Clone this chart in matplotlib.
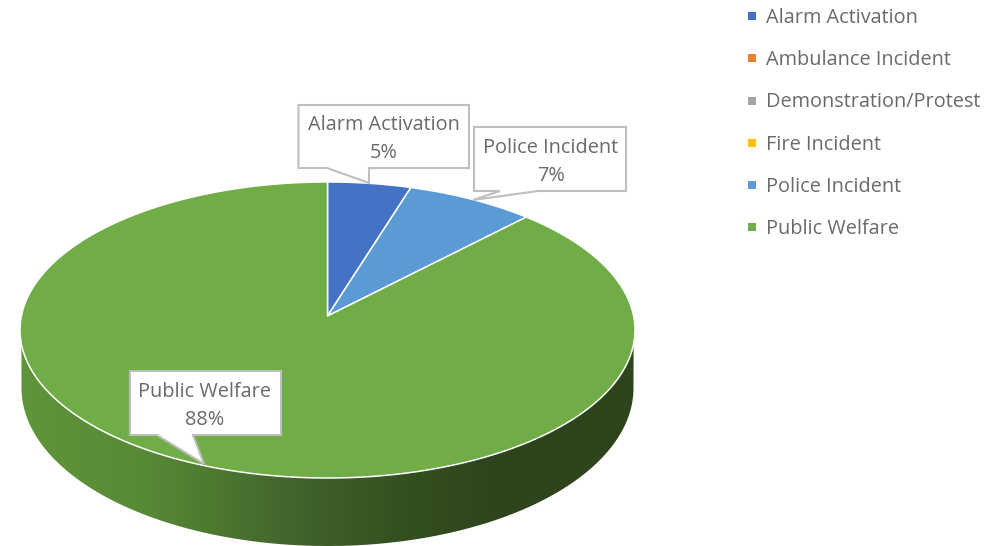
import numpy as np
import matplotlib
matplotlib.use("Agg")
import matplotlib.pyplot as plt
from matplotlib.colors import LinearSegmentedColormap
from matplotlib.lines import Line2D
from matplotlib.patches import Polygon

categories = ["Alarm Activation", "Ambulance Incident", "Demonstration/Protest",
              "Fire Incident", "Police Incident", "Public Welfare"]
values = [4.8, 0, 0, 0, 7.4, 87.8]
colors = ["#4472C4", "#ED7D31", "#A5A5A5", "#FFC000", "#5B9BD5", "#70AD47"]

W, H = 1007, 546
FONT = "Open Sans"
TXT = "#6A6A6A"
FS = 14.3

fig = plt.figure(figsize=(W / 100, H / 100), dpi=100)
ax = fig.add_axes([0, 0, 1, 1])
ax.set_xlim(0, W)
ax.set_ylim(H, 0)
ax.axis("off")

# perspective projection of the pie disc
CX, CY, A, B, P = 327.5, 316.0, 306.1, 146.7, 0.0945


def project(theta):
    x, y = np.sin(theta), np.cos(theta)
    d = 1 + P * y
    return CX + A * x / d, CY - B * y / d


# side wall: front half of the top rim and the lower rim, shaded left to right
ang = np.linspace(np.pi / 2, 3 * np.pi / 2, 361)
fx, fy = project(ang)
lowx = CX + 306.0 * np.sin(ang)
lowy = 388.0 - 158.0 * np.cos(ang)
wall = np.column_stack([np.r_[fx, lowx[::-1]], np.r_[fy, lowy[::-1]]])
wall_patch = Polygon(wall, closed=True, fc="none", ec="none", transform=ax.transData)
ax.add_patch(wall_patch)
cmap = LinearSegmentedColormap.from_list(
    "side",
    [(0.0, "#609539"), (0.2, "#578A36"), (0.48, "#3F5F29"), (0.62, "#34501F"), (0.78, "#2D441C"), (1.0, "#2D441C")],
)
im = ax.imshow(np.linspace(0, 1, 256)[None, :], cmap=cmap, aspect="auto",
               extent=[20, 635, 546, 320], zorder=1, interpolation="bilinear")
im.set_clip_path(wall_patch)
ax.set_xlim(0, W)
ax.set_ylim(H, 0)

# top surface: slices from values, clockwise from 12 o'clock
fractions = np.asarray(values, float) / sum(values)
edges = np.r_[0, np.cumsum(fractions)] * 2 * np.pi
for start, end, v, c in zip(edges[:-1], edges[1:], values, colors):
    if v == 0:
        continue
    t = np.linspace(start, end, max(int((end - start) * 120), 8))
    sx, sy = project(t)
    ax.fill(np.r_[CX, sx], np.r_[CY, sy], fc=c, ec="white", lw=1.1, zorder=2, joinstyle="round")

# callouts: (box left, right, top, bottom), pointer base-start, base-end, tip
callouts = [
    (0, (298.5, 469, 105, 168), (327, 168), (369, 168), (369, 183), (384, 125, 153)),
    (4, (474, 626, 127, 191), (538, 191), (500, 191), (473, 200), (551, 148, 176)),
    (5, (130, 281, 371, 435), (193, 435), (157, 435), (204, 464), (205, 392, 420)),
]
for idx, (l, r, t, b), p1, p2, tip, (tx0, y1, y2) in callouts:
    pts = [(l, t), (r, t), (r, b)]
    base = sorted([p1, p2], key=lambda p: -p[0])
    pts += [base[0], tip, base[1], (l, b)]
    ax.add_patch(Polygon(pts, closed=True, fc="white", ec="#BFBFBF", lw=1.5, zorder=3, joinstyle="miter"))
    pct = f"{round(fractions[idx] * 100)}%"
    ax.text(tx0, y1, categories[idx], ha="center", va="center", fontsize=FS, color=TXT, family=FONT, zorder=4)
    ax.text(tx0, y2, pct, ha="center", va="center", fontsize=FS, color=TXT, family=FONT, zorder=4)

handles = [Line2D([], [], ls="none", marker="s", ms=5.6, mfc=c, mec=c, mew=0) for c in colors]
leg = ax.legend(handles, categories, loc="upper left", bbox_to_anchor=(742 / W, 1 - 8 / H),
                frameon=False, prop={"family": FONT, "size": FS}, labelcolor=TXT,
                borderpad=0, borderaxespad=0, handlelength=1.0, handletextpad=0.2,
                labelspacing=1.12)

fig.savefig("out.png", dpi=100)
